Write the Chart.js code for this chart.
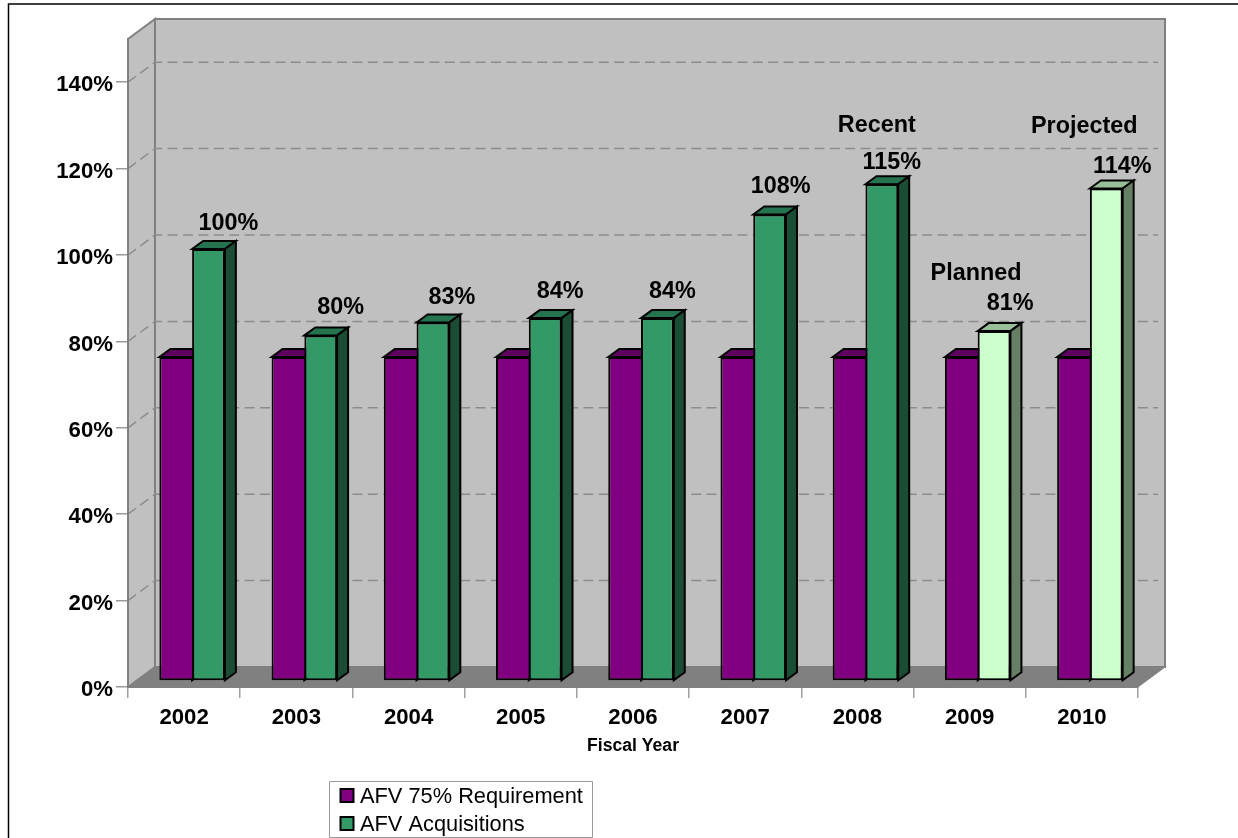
<!DOCTYPE html>
<html>
<head>
<meta charset="utf-8">
<title>AFV Acquisitions</title>
<script src="https://cdn.jsdelivr.net/npm/chart.js@4/dist/chart.umd.min.js"></script>
<style>
  html, body { margin: 0; padding: 0; background: #fff; }
  #wrap { width: 1238px; height: 838px; }
</style>
</head>
<body>
<div id="wrap"><canvas id="afvChart" width="1238" height="838"></canvas></div>
<script>
// data
const years = ['2002', '2003', '2004', '2005', '2006', '2007', '2008', '2009', '2010'];
const requirement = [75, 75, 75, 75, 75, 75, 75, 75, 75];
const acquisitions = [100, 80, 83, 84, 84, 108, 115, 81, 114];
const plannedYears = ['2009', '2010'];
const yTicks = [0, 20, 40, 60, 80, 100, 120, 140];
const notes = ['Recent', 'Planned', 'Projected'];
const noteYears = ['2008', '2009', '2010'];
const seriesNames = ['AFV 75% Requirement', 'AFV Acquisitions'];

const FONT = '"Liberation Sans", Arial, sans-serif';
const GREY = '#808080';
const PURPLE = ['#800080', '#600060', '#400040'];   // front, top, side
const GREEN = ['#339966', '#267350', '#1a4d33'];
const LIGHT = ['#ccffcc', '#99bf99', '#668066'];

// depth of the box and of the bars inside it
const WALL_DX = 27, WALL_DY = -20;
const BAR_DX = 8, BAR_DY = -6;
const FACE_DX = 11, FACE_DY = -8;

// label tweaks per year, the original labels were hand placed
const labelNudgeX = [20, 20, 19, 15, 15, 11, 10, 16, 16];
const labelNudgeY = [19, 21, 18, 20, 20, 21, 15, 21, 16];
const noteNudge = { Recent: [-5, 52], Planned: [-18, 51], Projected: [-22, 56] };

function greenFor(i) {
  return plannedYears.includes(years[i]) ? LIGHT : GREEN;
}

function poly(ctx, pts, fill, stroke, lw) {
  ctx.beginPath();
  pts.forEach((p, i) => i ? ctx.lineTo(p[0], p[1]) : ctx.moveTo(p[0], p[1]));
  ctx.closePath();
  if (fill) { ctx.fillStyle = fill; ctx.fill(); }
  if (stroke) { ctx.strokeStyle = stroke; ctx.lineWidth = lw; ctx.stroke(); }
}

const box3d = {
  id: 'box3d',
  beforeDraw(chart) {
    const { ctx, chartArea: a, scales: { y } } = chart;
    const L = a.left, R = a.right, T = a.top, B = a.bottom;
    ctx.save();

    // page frame
    ctx.strokeStyle = '#000';
    ctx.lineWidth = 1.5;
    ctx.beginPath();
    ctx.moveTo(8.5, 838);
    ctx.lineTo(8.5, 4);
    ctx.lineTo(1238, 4);
    ctx.stroke();

    // walls and floor
    poly(ctx, [[L, B], [L, T], [L + WALL_DX, T + WALL_DY], [L + WALL_DX, B + WALL_DY]], '#c0c0c0', GREY, 2);
    poly(ctx, [[L + WALL_DX, T + WALL_DY], [R + WALL_DX, T + WALL_DY], [R + WALL_DX, B + WALL_DY], [L + WALL_DX, B + WALL_DY]], '#c0c0c0', GREY, 2);
    poly(ctx, [[L, B], [L + WALL_DX, B + WALL_DY], [R + WALL_DX, B + WALL_DY], [R, B]], GREY, GREY, 1);

    // dashed gridlines, bent round the left wall
    ctx.strokeStyle = '#8c8c8c';
    ctx.lineWidth = 1.5;
    ctx.setLineDash([10, 5.4]);
    yTicks.slice(1).forEach(v => {
      const py = y.getPixelForValue(v);
      ctx.beginPath();
      ctx.moveTo(L, py);
      ctx.lineTo(L + WALL_DX, py + WALL_DY);
      ctx.lineTo(R + WALL_DX - 7, py + WALL_DY);
      ctx.stroke();
    });
    ctx.restore();

    // legend box
    ctx.save();
    poly(ctx, [[329.5, 781.5], [592.5, 781.5], [592.5, 837.5], [329.5, 837.5]], '#fff', '#999999', 1);
    const swatches = [PURPLE[0], GREEN[0]];
    seriesNames.forEach((name, i) => {
      const sy = 789 + i * 28;
      ctx.fillStyle = swatches[i];
      ctx.fillRect(340.5, sy, 13, 13);
      ctx.strokeStyle = '#000';
      ctx.lineWidth = 2;
      ctx.strokeRect(340.5, sy, 13, 13);
      ctx.fillStyle = '#000';
      ctx.font = '21.8px ' + FONT;
      ctx.textAlign = 'left';
      ctx.textBaseline = 'alphabetic';
      ctx.fillText(name, 360, 803 + i * 27.5);
    });
    ctx.restore();
  },
  beforeDatasetsDraw(chart) {
    const { ctx } = chart;
    ctx.save();
    ctx.translate(BAR_DX, BAR_DY);
    // top and side faces go first, the fronts cover what should be hidden
    chart.data.datasets.forEach((ds, di) => {
      chart.getDatasetMeta(di).data.forEach((bar, i) => {
        const c = di === 0 ? PURPLE : greenFor(i);
        const l = bar.x - bar.width / 2, r = bar.x + bar.width / 2;
        const t = bar.y, b = bar.base;
        poly(ctx, [[l, t], [l + FACE_DX, t + FACE_DY], [r + FACE_DX, t + FACE_DY], [r, t]], c[1], '#000', 2);
        poly(ctx, [[r, t], [r + FACE_DX, t + FACE_DY], [r + FACE_DX, b + FACE_DY], [r, b]], c[2], '#000', 2);
      });
    });
  },
  afterDatasetsDraw(chart) {
    const { ctx } = chart;
    ctx.restore();   // undo the translate from beforeDatasetsDraw

    ctx.save();
    ctx.fillStyle = '#000';
    ctx.textAlign = 'center';
    ctx.textBaseline = 'alphabetic';
    ctx.font = 'bold 23.4px ' + FONT;
    const bars = chart.getDatasetMeta(1).data;
    acquisitions.forEach((v, i) => {
      ctx.fillText(v + '%', bars[i].x + BAR_DX + labelNudgeX[i], bars[i].y + BAR_DY - labelNudgeY[i]);
    });
    notes.forEach((note, n) => {
      const i = years.indexOf(noteYears[n]);
      const nudge = noteNudge[note];
      ctx.fillText(note, bars[i].x + BAR_DX + nudge[0], bars[i].y + BAR_DY - nudge[1]);
    });
    ctx.restore();
  }
};

new Chart(document.getElementById('afvChart'), {
  type: 'bar',
  data: {
    labels: years,
    datasets: [
      {
        label: seriesNames[0],
        data: requirement,
        backgroundColor: PURPLE[0],
        borderColor: '#000',
        borderWidth: { left: 2, top: 2, bottom: 2, right: 0 },
        borderSkipped: false
      },
      {
        label: seriesNames[1],
        data: acquisitions,
        backgroundColor: ctx => greenFor(ctx.dataIndex)[0],
        borderColor: '#000',
        borderWidth: 2,
        borderSkipped: false
      }
    ]
  },
  options: {
    responsive: false,
    animation: false,
    events: [],
    layout: { padding: { top: 39, right: 100, bottom: 81, left: 0 } },
    categoryPercentage: 65.5 / 112.2,
    barPercentage: 1,
    plugins: { legend: { display: false }, tooltip: { enabled: false } },
    scales: {
      x: {
        afterFit: s => { s.height = 70; },
        grid: { drawOnChartArea: false, color: GREY, tickColor: '#a0a0a0', tickLength: 11, lineWidth: 1.5 },
        border: { display: true, color: GREY, width: 2 },
        ticks: { color: '#000', font: { family: FONT, size: 22.2, weight: 'bold' }, padding: 7, maxRotation: 0 },
        title: { display: true, text: 'Fiscal Year', color: '#000', font: { family: FONT, size: 17.6, weight: 'bold' }, padding: { top: 0, bottom: 0 } }
      },
      y: {
        min: 0,
        max: 150,
        afterFit: s => { s.width = 128; },
        afterBuildTicks: s => { s.ticks = yTicks.map(v => ({ value: v })); },
        grid: { drawOnChartArea: false, color: GREY, tickColor: '#999999', tickLength: 12, lineWidth: 1.5 },
        border: { display: true, color: GREY, width: 2 },
        ticks: { color: '#000', font: { family: FONT, size: 22.2, weight: 'bold' }, padding: 3, labelOffset: 3, callback: v => v + '%' }
      }
    }
  },
  plugins: [box3d]
});
</script>
</body>
</html>
